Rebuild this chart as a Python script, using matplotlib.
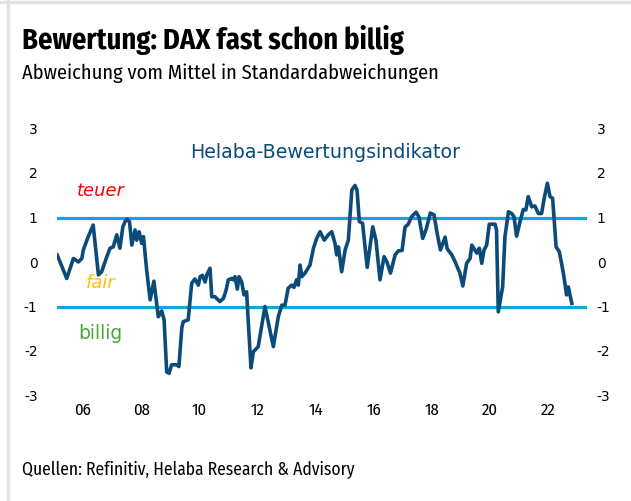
import matplotlib
matplotlib.use("Agg")
import matplotlib.pyplot as plt
from matplotlib import font_manager
from matplotlib.lines import Line2D

years = [2005.11, 2005.44, 2005.67, 2005.84, 2005.96, 2006.01, 2006.18, 2006.35, 2006.53, 2006.64,
         2006.82, 2006.93, 2007.04, 2007.16, 2007.27, 2007.37, 2007.45, 2007.52, 2007.60, 2007.68,
         2007.79, 2007.85, 2007.93, 2008.02, 2008.08, 2008.19, 2008.31, 2008.44, 2008.59, 2008.71,
         2008.79, 2008.88, 2008.96, 2009.05, 2009.22, 2009.30, 2009.40, 2009.45, 2009.62, 2009.74,
         2009.85, 2009.97, 2010.03, 2010.11, 2010.20, 2010.26, 2010.37, 2010.43, 2010.54, 2010.71,
         2010.83, 2010.92, 2011.00, 2011.12, 2011.17, 2011.23, 2011.31, 2011.37, 2011.46, 2011.54,
         2011.63, 2011.69, 2011.78, 2011.86, 2012.03, 2012.26, 2012.55, 2012.72, 2012.84, 2012.95,
         2013.06, 2013.18, 2013.26, 2013.35, 2013.41, 2013.47, 2013.53, 2013.64, 2013.81, 2013.93,
         2014.04, 2014.16, 2014.30, 2014.44, 2014.56, 2014.67, 2014.73, 2014.79, 2014.90, 2015.02,
         2015.13, 2015.25, 2015.36, 2015.43, 2015.51, 2015.62, 2015.78, 2015.97, 2016.08, 2016.22,
         2016.36, 2016.46, 2016.58, 2016.74, 2016.85, 2016.98, 2017.08, 2017.19, 2017.31, 2017.46,
         2017.56, 2017.69, 2017.81, 2017.95, 2018.08, 2018.19, 2018.30, 2018.46, 2018.53, 2018.69,
         2018.80, 2018.97, 2019.07, 2019.20, 2019.32, 2019.38, 2019.55, 2019.64, 2019.72, 2019.80,
         2019.89, 2019.98, 2020.18, 2020.23, 2020.29, 2020.44, 2020.52, 2020.64, 2020.75, 2020.83,
         2020.92, 2021.04, 2021.15, 2021.24, 2021.32, 2021.44, 2021.55, 2021.67, 2021.78, 2021.87,
         2021.98, 2022.07, 2022.16, 2022.28, 2022.39, 2022.53, 2022.64, 2022.70, 2022.82]

indicator = [0.16, -0.37, 0.08, 0.00, 0.08, 0.27, 0.57, 0.83, -0.29, -0.22,
             0.12, 0.31, 0.34, 0.61, 0.31, 0.79, 0.91, 0.96, 0.90, 0.38,
             0.72, 0.49, 0.68, 0.42, 0.57, -0.18, -0.85, -0.43, -1.23, -1.10,
             -1.30, -2.47, -2.50, -2.31, -2.31, -2.35, -1.48, -1.34, -1.30, -0.48,
             -0.38, -0.52, -0.33, -0.30, -0.45, -0.29, -0.14, -0.78, -0.78, -0.89,
             -0.82, -0.64, -0.40, -0.37, -0.40, -0.33, -0.61, -0.33, -0.45, -0.74,
             -0.67, -1.38, -2.38, -2.02, -1.90, -1.00, -1.90, -1.23, -0.97, -0.97,
             -0.59, -0.52, -0.57, -0.40, -0.52, -0.07, -0.33, -0.25, -0.07, 0.31,
             0.53, 0.68, 0.49, 0.61, 0.68, 0.42, 0.16, 0.34, -0.22, 0.27,
             0.49, 1.62, 1.72, 1.61, 0.91, 0.87, -0.12, 0.79, 0.49, -0.40,
             0.12, 0.00, -0.25, 0.16, 0.25, 0.26, 0.78, 0.85, 1.02, 1.12,
             1.01, 0.53, 0.74, 1.10, 1.06, 0.63, 0.27, 0.56, 0.30, 0.16,
             0.01, -0.25, -0.54, -0.03, 0.08, 0.38, 0.20, 0.31, -0.03, 0.27,
             0.38, 0.85, 0.85, 0.72, -1.12, -0.56, 0.57, 1.13, 1.09, 1.02,
             0.58, 0.91, 1.18, 1.17, 1.47, 1.24, 1.26, 1.09, 1.09, 1.43,
             1.77, 1.47, 1.43, 0.34, 0.23, -0.25, -0.74, -0.56, -0.93]

x_ticks = [2006, 2008, 2010, 2012, 2014, 2016, 2018, 2020, 2022]
x_tick_labels = ["06", "08", "10", "12", "14", "16", "18", "20", "22"]
y_ticks = [-3, -2, -1, 0, 1, 2, 3]
thresholds = [1, -1]

names = {f.name for f in font_manager.fontManager.ttflist}
cond = "Fira Sans Condensed" if "Fira Sans Condensed" in names else "DejaVu Sans"

W, H = 631, 501
fig = plt.figure(figsize=(W / 100, H / 100), dpi=100)
fig.patch.set_facecolor("white")

# light frame (top and left)
fig.add_artist(Line2D([0, 1], [1 - 1.5 / H, 1 - 1.5 / H], transform=fig.transFigure,
                      color="#e3e3e3", lw=2.5))
fig.add_artist(Line2D([8 / W, 8 / W], [0, 1], transform=fig.transFigure,
                      color="#e3e3e3", lw=2.5))

ax_left, ax_right = 57 / W, 587 / W
ax_top, ax_bottom = 1 - 128.5 / H, 1 - 395.5 / H
ax = fig.add_axes([ax_left, ax_bottom, ax_right - ax_left, ax_top - ax_bottom])
ax.set_xlim(2005.105, 2023.343)
ax.set_ylim(-3, 3)
for s in ax.spines.values():
    s.set_visible(False)

for t in thresholds:
    ax.axhline(t, color="#17a2e0", lw=2.3, zorder=2)
ax.plot(years, indicator, color="#0b4b7a", lw=2.6, zorder=3, solid_joinstyle="round")

ax.set_xticks(x_ticks)
ax.set_xticklabels(x_tick_labels, fontfamily=cond, fontsize=12)
ax.set_yticks(y_ticks)
ax.set_yticklabels([str(v) for v in y_ticks], fontfamily="DejaVu Sans", fontsize=10)
ax.tick_params(axis="x", length=0, pad=5)
ax.tick_params(axis="y", length=0, pad=14, labelleft=True, labelright=False)
ax2 = ax.twinx()
ax2.set_ylim(-3, 3)
ax2.set_yticks(y_ticks)
ax2.set_yticklabels([str(v) for v in y_ticks], fontfamily="DejaVu Sans", fontsize=10)
ax2.tick_params(axis="y", length=0, pad=7)
for s in ax2.spines.values():
    s.set_visible(False)

ax.text(2009.68, 2.47, "Helaba-Bewertungsindikator", color="#0b4b7a", fontsize=13.7,
        fontfamily="DejaVu Sans", ha="left", va="center")
ax.text(2006.6, 1.6, "teuer", color="#ff0000", fontsize=13, fontstyle="italic",
        fontfamily="DejaVu Sans", ha="center", va="center")
ax.text(2006.6, -0.47, "fair", color="#ffc000", fontsize=13, fontstyle="italic",
        fontfamily="DejaVu Sans", ha="center", va="center")
ax.text(2006.6, -1.6, "billig", color="#4aa634", fontsize=13.5,
        fontfamily="DejaVu Sans", ha="center", va="center")

fig.text(22 / W, 1 - 49 / H, "Bewertung: DAX fast schon billig", fontfamily=cond,
         fontweight="bold", fontsize=20.5, ha="left", va="baseline", color="black")
fig.text(22 / W, 1 - 79 / H, "Abweichung vom Mittel in Standardabweichungen", fontfamily=cond,
         fontsize=14.7, ha="left", va="baseline", color="black")
fig.text(22 / W, 1 - 475 / H, "Quellen: Refinitiv, Helaba Research & Advisory", fontfamily=cond,
         fontsize=12.6, ha="left", va="baseline", color="black")

fig.savefig("out.png", dpi=100)
